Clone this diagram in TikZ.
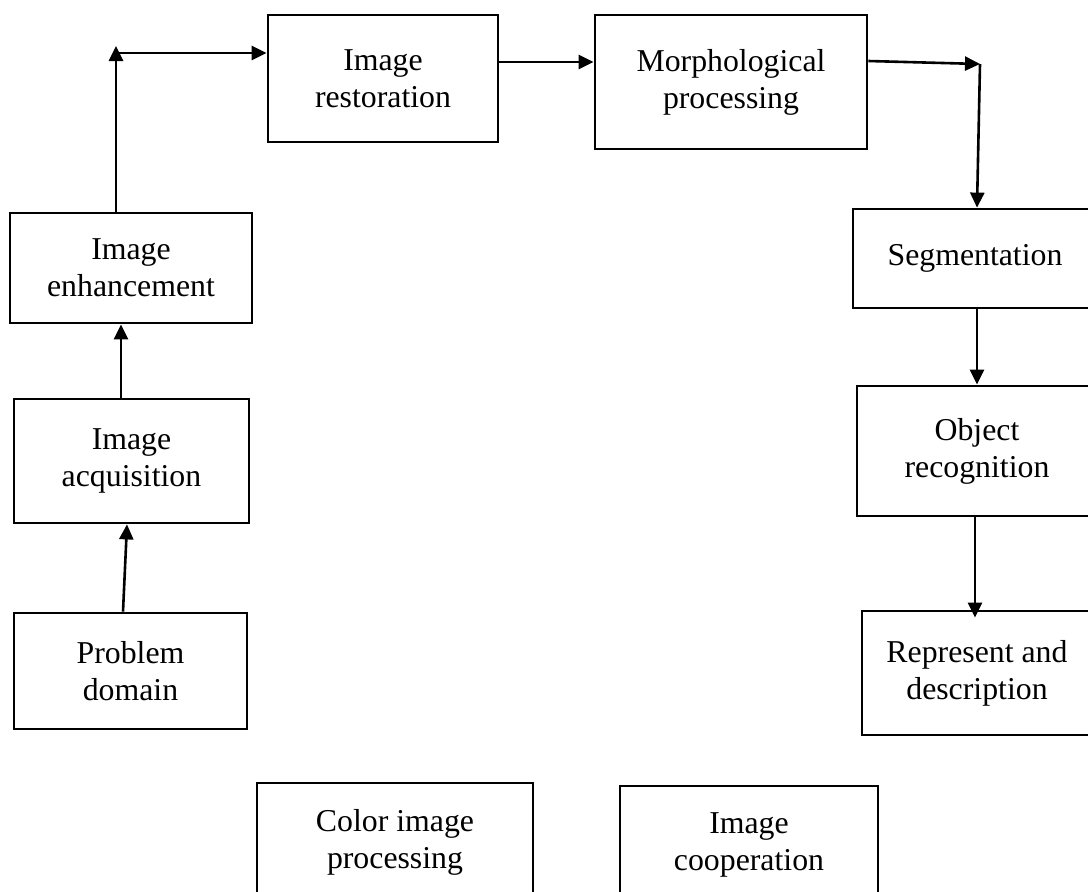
\documentclass[tikz,border=0pt]{standalone}
\usepackage{fontspec}
\setmainfont{Liberation Serif}
\usetikzlibrary{arrows.meta}
\tikzset{
  box/.style={draw, line width=2.8pt, align=center, inner sep=0pt, font=\fontsize{31.8}{37}\selectfont},
  arr/.style={line width=2.6pt, -{Triangle[length=15pt,width=14pt]}},
}
\begin{document}
\begin{tikzpicture}[x=1pt,y=-1pt]
\useasboundingbox (0,0) rectangle (1088,892);
\node[box, minimum width=242, minimum height=110] (enh) at (131,268) {Image\\enhancement};
\node[box, minimum width=230, minimum height=127] (rest) at (383,78.5) {Image\\restoration};
\node[box, minimum width=272, minimum height=134] (morph) at (731,82) {Morphological\\processing};
\node[box, minimum width=244, minimum height=99] (seg) at (975,258.5) {Segmentation};
\node[box, minimum width=240, minimum height=130] (obj) at (977,451) {Object\\recognition};
\node[box, minimum width=230, minimum height=124] (rep) at (977,673) {Represent and\\description};
\node[box, minimum width=235, minimum height=124] (acq) at (131.5,461) {Image\\acquisition};
\node[box, minimum width=233, minimum height=116] (prob) at (130.5,671) {Problem\\domain};
\node[box, minimum width=276, minimum height=118] (color) at (395,842) {Color image\\processing};
\node[box, minimum width=258, minimum height=118] (coop) at (749,845) {Image\\cooperation};
\coordinate (upL) at (116,46);
\coordinate (cornerL) at (116,53);
\coordinate (cornerR) at (980,64);
\coordinate (r1) at ([yshift=16.5pt]rest.east);
\draw[arr] ([xshift=-7.5pt]prob.north) -- ([xshift=-4.5pt]acq.south);
\draw[arr] ([xshift=-10.5pt]acq.north) -- ([xshift=-10pt]enh.south);
\draw[arr] ([xshift=-15pt]enh.north) -- (upL);
\draw[arr] (cornerL) -- (cornerL -| rest.west);
\draw[arr] (r1) -- (r1 -| morph.west);
\draw[arr] ([yshift=21pt]morph.east) -- (cornerR);
\draw[arr] (cornerR) -- ([xshift=2pt]seg.north);
\draw[arr] ([xshift=2pt]seg.south) -- (obj.north);
\draw[arr] ([xshift=-2pt]obj.south) -- ([xshift=-2pt,yshift=-8pt]rep.north);
\end{tikzpicture}
\end{document}
